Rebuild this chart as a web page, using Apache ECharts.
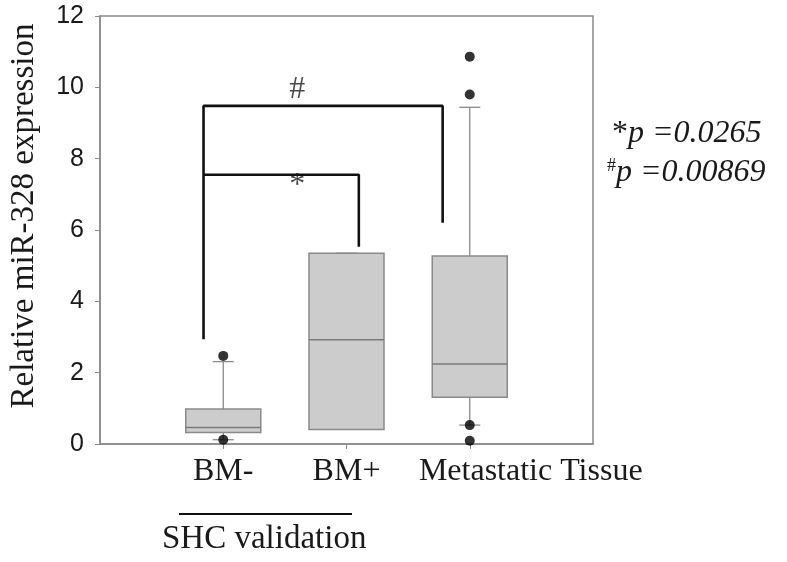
<!DOCTYPE html>
<html>
<head>
<meta charset="UTF-8">
<script src="https://cdn.jsdelivr.net/npm/echarts@6/dist/echarts.min.js"></script>
<title>miR-328 boxplot</title>
<style>
  html, body { margin: 0; padding: 0; background: #fff; }
  #main { width: 787px; height: 562px; }
</style>
</head>
<body>
<div id="main"></div>
<script type="text/javascript">
// groups and their positions on the x scale
var categories = ['BM-', 'BM+', 'Metastatic Tissue'];
var positions = [1, 2, 3];
// box statistics
var whiskerLow = [0.12, 0.41, 0.53];
var q1 = [0.32, 0.41, 1.31];
var median = [0.46, 2.92, 2.24];
var q3 = [0.98, 5.35, 5.27];
var whiskerHigh = [2.31, 5.35, 9.44];
// outlier dots
var outlierX = [1, 1, 3, 3, 3, 3];
var outlierY = [2.47, 0.12, 10.86, 9.80, 0.53, 0.09];
// significance brackets
var bracketHash = [[0.84, 2.94], [0.84, 9.48], [2.78, 9.48], [2.78, 6.2]];
var bracketStar = [[0.84, 7.55], [2.10, 7.55], [2.10, 5.53]];
var bracketMarks = [{ x: 1.6, y: 9.95, text: '#' }, { x: 1.6, y: 7.25, text: '*' }];
var yTicks = [0, 2, 4, 6, 8, 10, 12];

var serif = "'Liberation Serif', 'Times New Roman', serif";
var gray = '#8a8a8a';

var boxData = positions.map(function (p, i) {
  return [p, whiskerLow[i], q1[i], median[i], q3[i], whiskerHigh[i]];
});
var outlierData = outlierX.map(function (x, i) { return [x, outlierY[i]]; });

function renderBox(params, api) {
  var x = api.value(0);
  var lw = api.coord([x, api.value(1)]);
  var b1 = api.coord([x, api.value(2)]);
  var md = api.coord([x, api.value(3)]);
  var b3 = api.coord([x, api.value(4)]);
  var hw = api.coord([x, api.value(5)]);
  var cx = lw[0];
  var bw = 75, cw = 21;
  var ls = { stroke: gray, lineWidth: 1.3 };
  return {
    type: 'group',
    children: [
      { type: 'line', shape: { x1: cx, y1: hw[1], x2: cx, y2: b3[1] }, style: ls },
      { type: 'line', shape: { x1: cx, y1: b1[1], x2: cx, y2: lw[1] }, style: ls },
      { type: 'line', shape: { x1: cx - cw / 2, y1: hw[1], x2: cx + cw / 2, y2: hw[1] }, style: ls },
      { type: 'line', shape: { x1: cx - cw / 2, y1: lw[1], x2: cx + cw / 2, y2: lw[1] }, style: ls },
      { type: 'rect', shape: { x: cx - bw / 2, y: b3[1], width: bw, height: b1[1] - b3[1] },
        style: { fill: '#cccccc', stroke: gray, lineWidth: 1.5 } },
      { type: 'line', shape: { x1: cx - bw / 2, y1: md[1], x2: cx + bw / 2, y2: md[1] },
        style: { stroke: '#7a7a7a', lineWidth: 1.5 } }
    ]
  };
}

var myChart = echarts.init(document.getElementById('main'));

var option = {
  animation: false,
  grid: { left: 100, right: 194, top: 16, bottom: 118, show: true, borderColor: gray, borderWidth: 1.5 },
  xAxis: {
    type: 'value', min: 0, max: 4, interval: 1,
    axisLine: { lineStyle: { color: gray, width: 1.5 } },
    axisTick: { length: 5, lineStyle: { color: gray }, customValues: positions },
    splitLine: { show: false },
    axisLabel: {
      margin: 12, color: '#1a1a1a', fontSize: 32, fontFamily: serif,
      customValues: positions,
      formatter: function (v) {
        var name = categories[v - 1];
        if (!name) return '';
        return v === 3 ? '{m|' + name + '}' : name;
      },
      rich: { m: { fontSize: 32, fontFamily: serif, color: '#1a1a1a', padding: [0, 0, 0, 122] } }
    }
  },
  yAxis: {
    type: 'value', min: 0, max: 12, interval: 2,
    axisLine: { show: true, lineStyle: { color: gray, width: 1.5 } },
    axisTick: { show: true, length: 5, lineStyle: { color: gray } },
    splitLine: { show: false },
    axisLabel: {
      margin: 16, color: '#1a1a1a', fontSize: 25, fontFamily: "'Liberation Sans', Arial, sans-serif",
      formatter: function (v) { return yTicks.indexOf(v) >= 0 ? String(v) : ''; }
    }
  },
  series: [
    {
      type: 'custom', renderItem: renderBox, data: boxData,
      encode: { x: 0, y: [1, 2, 3, 4, 5] }, z: 2
    },
    {
      type: 'scatter', data: outlierData, symbolSize: 10,
      itemStyle: { color: '#000' }, z: 4
    },
    {
      type: 'line', data: bracketHash, showSymbol: false, symbol: 'none',
      lineStyle: { color: '#111', width: 2.6 }, z: 3
    },
    {
      type: 'line', data: bracketStar, showSymbol: false, symbol: 'none',
      lineStyle: { color: '#111', width: 2.6 }, z: 3
    },
    {
      type: 'scatter', symbolSize: 0, z: 5,
      data: bracketMarks.map(function (m) { return { value: [m.x, m.y], name: m.text }; }),
      label: {
        show: true, position: 'inside', formatter: '{b}',
        color: '#1a1a1a', fontSize: 32, fontFamily: serif
      }
    }
  ],
  graphic: [
    {
      type: 'text', x: 24, y: 216, rotation: Math.PI / 2,
      style: { text: 'Relative miR-328 expression', fill: '#1a1a1a', font: '33px ' + serif, align: 'center', verticalAlign: 'middle' }
    },
    {
      type: 'line', shape: { x1: 179, y1: 514, x2: 352, y2: 514 },
      style: { stroke: '#111', lineWidth: 2 }
    },
    {
      type: 'text', x: 162, y: 539,
      style: { text: 'SHC validation', fill: '#1a1a1a', font: '33px ' + serif, align: 'left', verticalAlign: 'middle' }
    },
    {
      type: 'text', x: 612, y: 134,
      style: {
        text: '{a|*}{b|p =0.0265}', verticalAlign: 'middle',
        rich: {
          a: { fontSize: 32, fontFamily: serif, fill: '#1a1a1a' },
          b: { fontSize: 32, fontFamily: serif, fontStyle: 'italic', fill: '#1a1a1a' }
        }
      }
    },
    {
      type: 'text', x: 607, y: 173,
      style: {
        text: '{a|#}{b|p =0.00869}', verticalAlign: 'middle',
        rich: {
          a: { fontSize: 18, fontFamily: serif, fill: '#1a1a1a', verticalAlign: 'top' },
          b: { fontSize: 32, fontFamily: serif, fontStyle: 'italic', fill: '#1a1a1a' }
        }
      }
    }
  ]
};
myChart.setOption(option);
</script>
</body>
</html>
